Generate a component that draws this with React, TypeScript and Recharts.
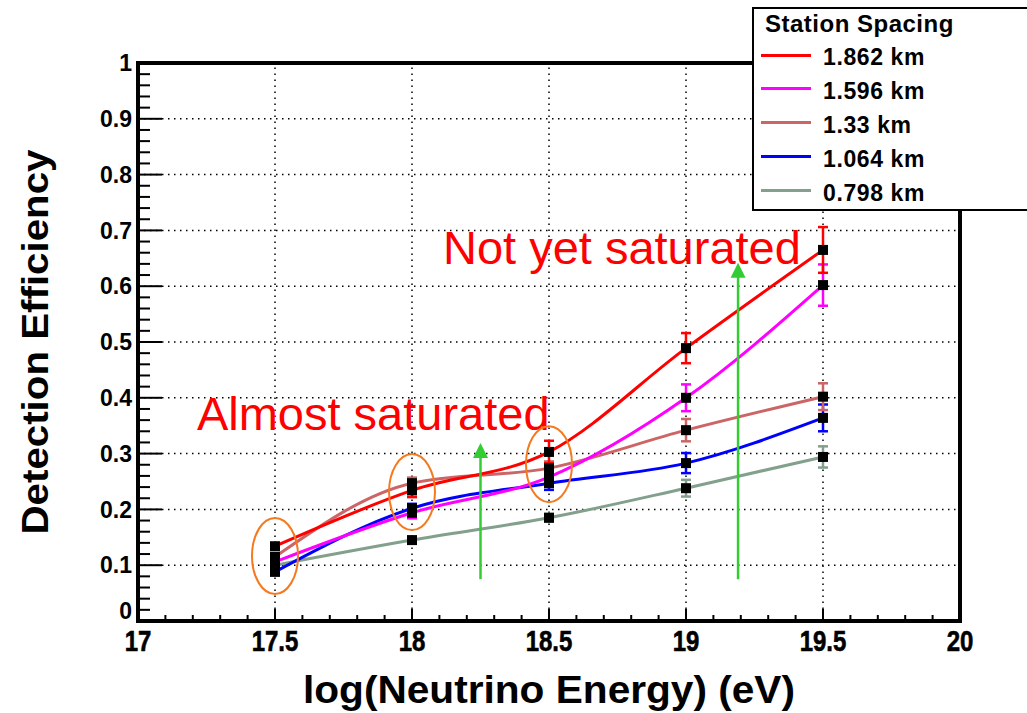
import {
  ComposedChart,
  ErrorBar,
  Label,
  Line,
  ReferenceDot,
  ReferenceLine,
  XAxis,
  YAxis,
} from 'recharts';

const FONT = "'Liberation Sans', Arial, Helvetica, sans-serif";

// log10(E / eV) sample points
const energies = [17.5, 18, 18.5, 19, 19.5];

// detection efficiency per station spacing, with error bar half-heights
const eff1862 = [0.134, 0.234, 0.303, 0.489, 0.665];
const err1862 = [0.005, 0.012, 0.02, 0.027, 0.041];
const eff1596 = [0.106, 0.194, 0.258, 0.4, 0.602];
const err1596 = [0.005, 0.01, 0.015, 0.024, 0.037];
const eff1330 = [0.115, 0.247, 0.274, 0.342, 0.402];
const err1330 = [0.005, 0.01, 0.012, 0.02, 0.024];
const eff1064 = [0.088, 0.202, 0.247, 0.283, 0.364];
const err1064 = [0.004, 0.008, 0.012, 0.018, 0.024];
const eff0798 = [0.1, 0.145, 0.185, 0.238, 0.294];
const err0798 = [0.003, 0.005, 0.007, 0.015, 0.019];

const series = [
  { id: 's1862', label: '1.862 km', color: '#ff0000', values: eff1862, errors: err1862 },
  { id: 's1596', label: '1.596 km', color: '#ff00ff', values: eff1596, errors: err1596 },
  { id: 's1330', label: '1.33 km', color: '#cc6666', values: eff1330, errors: err1330 },
  { id: 's1064', label: '1.064 km', color: '#0000ff', values: eff1064, errors: err1064 },
  { id: 's0798', label: '0.798 km', color: '#82a08c', values: eff0798, errors: err0798 },
];

// axis ticks: labelled majors, plus minor steps
const xMajor = [17, 17.5, 18, 18.5, 19, 19.5, 20];
const yMajor = [0, 0.1, 0.2, 0.3, 0.4, 0.5, 0.6, 0.7, 0.8, 0.9, 1];
const xTicks = Array.from({ length: 31 }, (_, i) => Math.round(170 + i) / 10);
const yTicks = Array.from({ length: 51 }, (_, i) => (i * 2) / 100);

// annotations
const circledEnergies = [17.5, 18, 18.5];
const circledEff = [0.1165, 0.231, 0.281];
const arrowEnergies = [18.25, 19.19];
const arrowFrom = [0.075, 0.075];
const arrowTip = [0.319, 0.642];
const notes = [
  { text: 'Almost saturated', e: 17.215, eff: 0.342 },
  { text: 'Not yet saturated', e: 18.113, eff: 0.64 },
];

const data = energies.map((e, i) => {
  const row: Record<string, number> = { e };
  series.forEach((s) => {
    row[s.id] = s.values[i];
    row[`${s.id}Err`] = s.errors[i];
  });
  return row;
});

const frame = { stroke: '#000', strokeWidth: 4, strokeLinecap: 'square' as const };

function XTick(props: any) {
  const { x, y, payload, side } = props;
  const major = xMajor.includes(payload.value);
  const len = major ? 12 : 6;
  const dir = side === 'top' ? 1 : -1;
  return (
    <g>
      <line x1={x} x2={x} y1={y} y2={y + dir * len} stroke="#000" strokeWidth={2} />
      {side === 'bottom' && major && (
        // ROOT draws these in a condensed bold face
        <text
          transform={`translate(${x},${y + 30}) scale(0.8,1)`}
          textAnchor="middle"
          fontFamily={FONT}
          fontWeight="bold"
          fontSize={30}
          stroke="#000"
          strokeWidth={0.6}
          fill="#000"
        >
          {String(payload.value)}
        </text>
      )}
    </g>
  );
}

function YTick(props: any) {
  const { x, y, payload, side } = props;
  const major = yMajor.includes(payload.value);
  const len = major ? 24 : 12;
  const dir = side === 'left' ? 1 : -1;
  const lift = payload.value === 0 ? -10 : 0;
  return (
    <g>
      <line x1={x} x2={x + dir * len} y1={y} y2={y} stroke="#000" strokeWidth={2} />
      {side === 'left' && major && (
        <text x={x - 6} y={y + lift} dy="0.36em" textAnchor="end" fontFamily={FONT} fontWeight="bold" fontSize={23} fill="#000">
          {String(payload.value)}
        </text>
      )}
    </g>
  );
}

function Marker(props: any) {
  const { cx, cy } = props;
  if (cx == null || cy == null) return null;
  return <rect x={cx - 5} y={cy - 5} width={10} height={10} fill="#000" />;
}

function LegendBox() {
  return (
    <div
      style={{
        position: 'absolute',
        left: 752,
        top: 7,
        width: 300,
        height: 204,
        border: '2px solid #000',
        boxSizing: 'border-box',
        background: '#fff',
        fontFamily: FONT,
        fontWeight: 'bold',
        color: '#000',
      }}
    >
      <div style={{ position: 'absolute', left: 11, top: 1, fontSize: 24, lineHeight: '28px', letterSpacing: 0.5 }}>
        Station Spacing
      </div>
      {series.map((s, i) => (
        <div
          key={s.id}
          style={{
            position: 'absolute',
            left: 7,
            top: 31 + i * 33.9,
            height: 34,
            display: 'flex',
            alignItems: 'center',
          }}
        >
          <span style={{ display: 'inline-block', width: 50, height: 3, background: s.color, marginRight: 12, marginTop: -4 }} />
          <span style={{ fontSize: 23, lineHeight: '34px', letterSpacing: 0.6 }}>{s.label}</span>
        </div>
      ))}
    </div>
  );
}

export default function App() {
  return (
    <div
      style={{
        position: 'absolute',
        left: 0,
        top: 0,
        width: 1027,
        height: 713,
        overflow: 'hidden',
        background: '#fff',
      }}
    >
      <ComposedChart width={1027} height={713} data={data} margin={{ top: 62, right: 66, bottom: 32, left: 78 }}>
        <XAxis
          dataKey="e"
          type="number"
          domain={[17, 20]}
          ticks={xTicks}
          interval={0}
          height={60}
          tickSize={0}
          tickMargin={0}
          axisLine={frame}
          tick={(p: any) => <XTick {...p} side="bottom" />}
        >
          <Label
            content={(p: any) => {
              const vb = p.viewBox;
              return (
                <text
                  x={vb.x + vb.width / 2}
                  y={vb.y + 82}
                  textAnchor="middle"
                  fontFamily={FONT}
                  fontWeight="bold"
                  fontSize={38}
                  textLength={492}
                  lengthAdjust="spacingAndGlyphs"
                  fill="#000"
                >
                  log(Neutrino Energy) (eV)
                </text>
              );
            }}
          />
        </XAxis>
        <XAxis
          xAxisId="top"
          orientation="top"
          type="number"
          domain={[17, 20]}
          ticks={xTicks}
          interval={0}
          height={1}
          tickSize={0}
          tickMargin={0}
          axisLine={frame}
          tick={(p: any) => <XTick {...p} side="top" />}
        />
        <YAxis
          type="number"
          domain={[0, 1]}
          ticks={yTicks}
          interval={0}
          width={60}
          tickSize={0}
          tickMargin={0}
          axisLine={frame}
          tick={(p: any) => <YTick {...p} side="left" />}
        >
          <Label
            content={(p: any) => {
              const vb = p.viewBox;
              const cy = vb.y + vb.height / 2;
              return (
                <text
                  x={48}
                  y={cy}
                  transform={`rotate(-90, 48, ${cy})`}
                  textAnchor="middle"
                  fontFamily={FONT}
                  fontWeight="bold"
                  fontSize={36}
                  textLength={385}
                  lengthAdjust="spacingAndGlyphs"
                  fill="#000"
                >
                  Detection Efficiency
                </text>
              );
            }}
          />
        </YAxis>
        <YAxis
          yAxisId="right"
          orientation="right"
          type="number"
          domain={[0, 1]}
          ticks={yTicks}
          interval={0}
          width={1}
          tickSize={0}
          tickMargin={0}
          axisLine={frame}
          tick={(p: any) => <YTick {...p} side="right" />}
        />

        {yMajor.slice(1, -1).map((v) => (
          <ReferenceLine key={`gy${v}`} y={v} stroke="#000" strokeWidth={1.5} strokeDasharray="1.5 4.5" />
        ))}
        {xMajor.slice(1, -1).map((v) => (
          <ReferenceLine key={`gx${v}`} x={v} stroke="#000" strokeWidth={1.5} strokeDasharray="1.5 4.5" />
        ))}

        {notes.map((n) => (
          <ReferenceDot
            key={n.text}
            x={n.e}
            y={n.eff}
            r={0}
            shape={(p: any) => (
              <text x={p.cx} y={p.cy} fontFamily={FONT} fontSize={47} fill="#ff0000">
                {n.text}
              </text>
            )}
          />
        ))}

        {[...series].reverse().map((s) => (
          <Line
            key={s.id}
            type="monotone"
            dataKey={s.id}
            stroke={s.color}
            strokeWidth={3}
            dot={<Marker />}
            activeDot={false}
            isAnimationActive={false}
          >
            <ErrorBar dataKey={`${s.id}Err`} direction="y" width={5} stroke={s.color} strokeWidth={2.5} />
          </Line>
        ))}

        {circledEnergies.map((e, i) => (
          <ReferenceDot
            key={`c${e}`}
            x={e}
            y={circledEff[i]}
            r={0}
            shape={(p: any) => (
              <ellipse cx={p.cx} cy={p.cy} rx={23} ry={38} fill="none" stroke="#f5791f" strokeWidth={2} />
            )}
          />
        ))}

        {arrowEnergies.map((e, i) => (
          <ReferenceLine
            key={`a${e}`}
            segment={[
              { x: e, y: arrowFrom[i] },
              { x: e, y: arrowTip[i] - 0.02 },
            ]}
            stroke="#33cc33"
            strokeWidth={2.5}
          />
        ))}
        {arrowEnergies.map((e, i) => (
          <ReferenceDot
            key={`h${e}`}
            x={e}
            y={arrowTip[i]}
            r={0}
            shape={(p: any) => (
              <path d={`M${p.cx},${p.cy} L${p.cx + 7.5},${p.cy + 15} L${p.cx - 7.5},${p.cy + 15} Z`} fill="#33cc33" />
            )}
          />
        ))}
      </ComposedChart>
      <LegendBox />
    </div>
  );
}
